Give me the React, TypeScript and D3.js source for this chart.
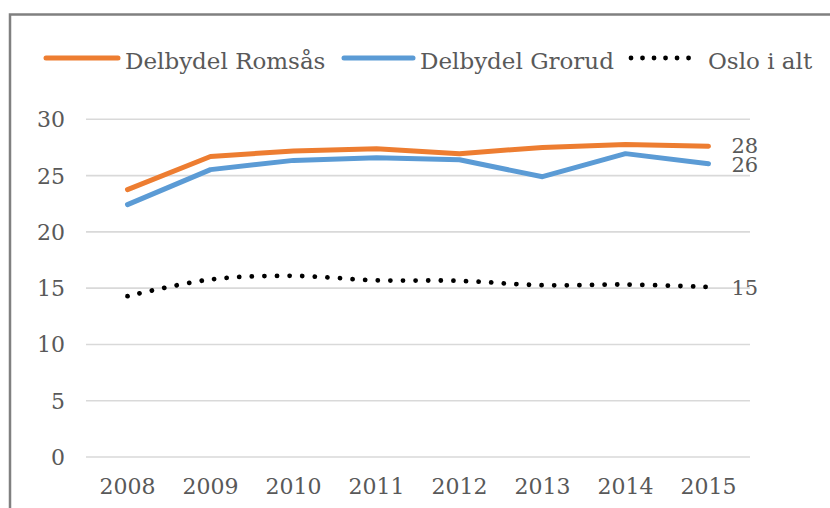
import React from "react";
import * as d3 from "d3";

const years = ["2008", "2009", "2010", "2011", "2012", "2013", "2014", "2015"];
const romsas = [23.75, 26.7, 27.18, 27.39, 26.95, 27.5, 27.77, 27.6];
const grorud = [22.42, 25.53, 26.35, 26.59, 26.4, 24.9, 26.95, 26.05];
const oslo = [14.29, 15.77, 16.09, 15.7, 15.65, 15.26, 15.32, 15.1];
const yTicks = [0, 5, 10, 15, 20, 25, 30];
const endLabels = ["28", "26", "15"];
const seriesNames = ["Delbydel Romsås", "Delbydel Grorud", "Oslo i alt"];

const W = 830;
const H = 508;
const FONT = "'DejaVu Serif', serif";
const TXT = "#595959";

export default function App() {
  const x = d3.scaleBand<string>().domain(years).range([86, 750]);
  const y = d3.scaleLinear().domain([0, 30]).range([457, 119.3]);
  const cx = (d: string) => (x(d) as number) + x.bandwidth() / 2;

  const lineLin = d3
    .line<number>()
    .x((_, i) => cx(years[i]))
    .y((v) => y(v));
  const lineSmooth = d3
    .line<number>()
    .x((_, i) => cx(years[i]))
    .y((v) => y(v))
    .curve(d3.curveCatmullRom.alpha(0.5));

  const series = [
    { name: seriesNames[0], values: romsas, color: "#ED7D31", dotted: false, label: endLabels[0], nudge: -1 },
    { name: seriesNames[1], values: grorud, color: "#5B9BD5", dotted: false, label: endLabels[1], nudge: 1 },
    { name: seriesNames[2], values: oslo, color: "#000000", dotted: true, label: endLabels[2], nudge: 0 },
  ];

  const legendX = [
    { line: [46, 118], text: 125 },
    { line: [344, 413], text: 420 },
    { line: [631, 700], text: 708 },
  ];
  const legendY = 58;

  return (
    <svg
      width={W}
      height={H}
      style={{ position: "absolute", left: 0, top: 0, background: "#fff" }}
    >
      <rect x={0} y={0} width={W} height={H} fill="#fff" />
      {/* border */}
      <path d={`M10,${H + 5} L10,14.5 L${W + 5},14.5`} fill="none" stroke="#808080" strokeWidth={2.5} />

      {/* gridlines */}
      {yTicks.map((t) => (
        <line key={"g" + t} x1={86} x2={750} y1={y(t)} y2={y(t)} stroke="#D9D9D9" strokeWidth={1.6} />
      ))}
      {/* y tick labels */}
      {yTicks.map((t) => (
        <text
          key={"yt" + t}
          x={65}
          y={y(t)}
          dy="0.36em"
          textAnchor="end"
          fontFamily={FONT}
          fontSize={22}
          fill={TXT}
        >
          {t}
        </text>
      ))}
      {/* x tick labels */}
      {years.map((yr) => (
        <text
          key={"xt" + yr}
          x={cx(yr)}
          y={494}
          textAnchor="middle"
          fontFamily={FONT}
          fontSize={22}
          fill={TXT}
        >
          {yr}
        </text>
      ))}

      {/* series */}
      {series.map((s) => (
        <path
          key={s.name}
          d={(s.dotted ? lineSmooth : lineLin)(s.values) || ""}
          fill="none"
          stroke={s.color}
          strokeWidth={s.dotted ? 4.8 : 5}
          strokeLinecap="round"
          strokeLinejoin="round"
          strokeDasharray={s.dotted ? "0.01 12.6" : undefined}
        />
      ))}

      {/* end labels */}
      {series.map((s) => (
        <text
          key={"el" + s.name}
          x={cx(years[years.length - 1]) + 23}
          y={y(s.values[s.values.length - 1]) + s.nudge}
          dy="0.36em"
          fontFamily={FONT}
          fontSize={21}
          fill={TXT}
        >
          {s.label}
        </text>
      ))}

      {/* legend */}
      {series.map((s, i) => (
        <g key={"lg" + s.name}>
          <line
            x1={legendX[i].line[0]}
            x2={legendX[i].line[1]}
            y1={legendY}
            y2={legendY}
            stroke={s.color}
            strokeWidth={s.dotted ? 4.8 : 5}
            strokeLinecap="round"
            strokeDasharray={s.dotted ? "0.01 11.5" : undefined}
          />
          <text
            x={legendX[i].text}
            y={69}
            fontFamily={FONT}
            fontSize={23}
            fill={TXT}
          >
            {s.name}
          </text>
        </g>
      ))}
    </svg>
  );
}
